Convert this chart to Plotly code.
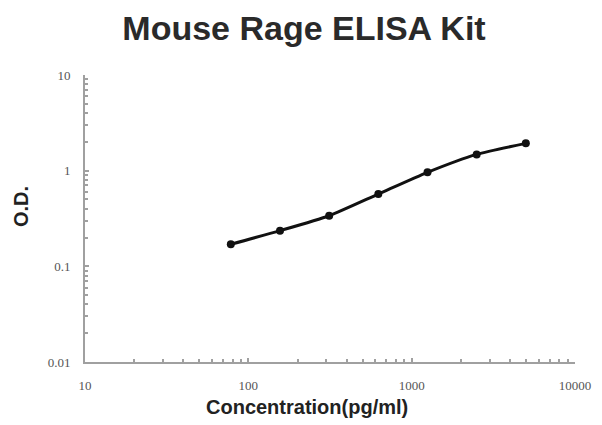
import plotly.graph_objects as go

concentration = [78.125, 156.25, 312.5, 625, 1250, 2500, 5000]
od_values = [0.170, 0.236, 0.338, 0.570, 0.961, 1.48, 1.93]

x_ticks = [10, 100, 1000, 10000]
x_tick_labels = ["10", "100", "1000", "10000"]
y_ticks = [0.01, 0.1, 1, 10]
y_tick_labels = ["0.01", "0.1", "1", "10"]

x_minor = [m * d for d in [10, 100, 1000] for m in range(2, 10)]
y_minor = [m * d for d in [0.01, 0.1, 1] for m in range(2, 10)]

# page offset of the default HTML body margin
OFF = 8
W, H = 602 - OFF, 425 - OFF
# target plot-area bounds in page pixels: x 85..575, y 75..362
L, T = 85 - OFF, 75 - OFF
R, B = W - (575 - OFF), H - (362 - OFF)
pw, ph = W - L - R, H - T - B


def px_to_paper(px, py):
    px, py = px - OFF, py - OFF
    return (px - L) / pw, (H - B - py) / ph


fig = go.Figure()
fig.add_trace(go.Scatter(
    x=concentration, y=od_values, mode="lines+markers",
    line=dict(color="#111111", width=3, shape="spline", smoothing=0.6),
    marker=dict(color="#111111", size=8),
    showlegend=False,
))

axis_font = dict(family="Liberation Serif", size=13, color="#555555")
axis_common = dict(
    type="log", showline=True, linecolor="#a0a0a0", linewidth=2, showgrid=False,
    zeroline=False, ticks="inside", ticklen=4, tickcolor="#a0a0a0", tickwidth=1.5,
    tickfont=axis_font, automargin=False, ticklabelstandoff=10,
)

fig.update_layout(
    width=W, height=H,
    margin=dict(l=L, r=R, t=T, b=B),
    paper_bgcolor="white", plot_bgcolor="white",
    title=dict(text="<b>Mouse Rage ELISA Kit</b>", x=(304 - OFF) / W, xanchor="center",
               xref="container", yref="container",
               y=1 - (28 - OFF) / H, yanchor="middle",
               font=dict(family="Liberation Sans", size=34, color="#2a2a2a")),
    xaxis=dict(range=[1, 4], tickvals=x_ticks, ticktext=x_tick_labels,
               minor=dict(tickvals=x_minor, ticks="inside", ticklen=3, tickcolor="#a0a0a0", showgrid=False),
               **axis_common),
    yaxis=dict(range=[-2, 1], tickvals=y_ticks, ticktext=y_tick_labels,
               minor=dict(tickvals=y_minor, ticks="inside", ticklen=3, tickcolor="#a0a0a0", showgrid=False),
               **axis_common),
)

ax, ay = px_to_paper(307, 407)
fig.add_annotation(text="<b>Concentration(pg/ml)</b>", x=ax, y=ay, xref="paper", yref="paper",
                   showarrow=False, xanchor="center", yanchor="middle",
                   font=dict(family="Liberation Sans", size=20, color="#222222"))
ox, oy = px_to_paper(21, 207)
fig.add_annotation(text="<b>O.D.</b>", x=ox, y=oy, xref="paper", yref="paper", textangle=-90,
                   showarrow=False, xanchor="center", yanchor="middle",
                   font=dict(family="Liberation Sans", size=20, color="#222222"))

fig.write_html("out.html")
